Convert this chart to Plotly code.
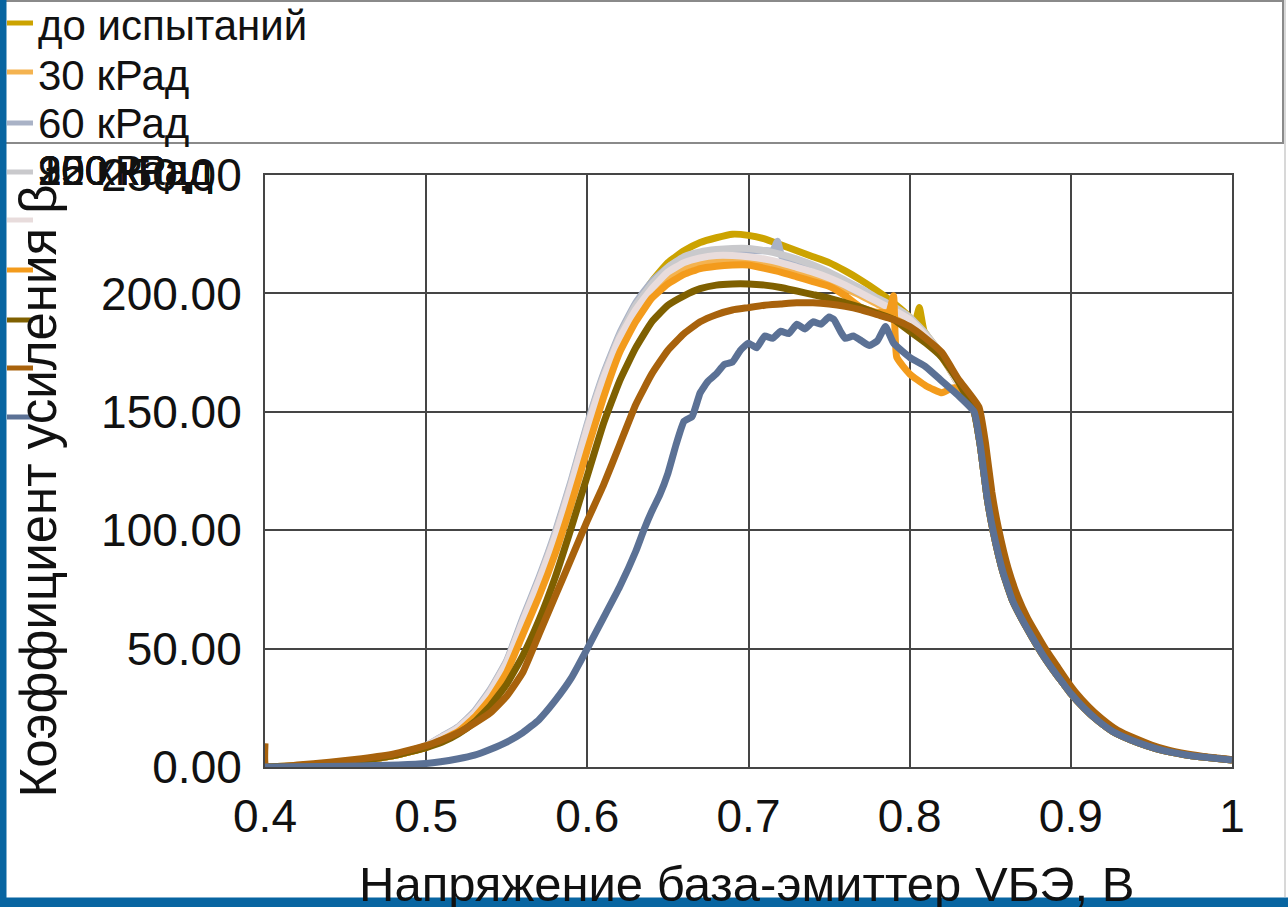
import plotly.graph_objects as go

# ---------------- data ----------------
SERIES_NAMES = ["до испытаний", "30 кРад", "60 кРад", "90 кРад", "120 кРад",
                "150 кРад", "200 кРад", "250 кРад", "300 кРад"]
SERIES_COLORS = ["#cca300", "#f4b350", "#a9b2c6", "#c9c9cc", "#e8dcdc",
                 "#f39b1c", "#7f6000", "#a8620c", "#5b7195"]

X_TICKS = [0.4, 0.5, 0.6, 0.7, 0.8, 0.9, 1.0]
X_TICK_TEXT = ["0.4", "0.5", "0.6", "0.7", "0.8", "0.9", "1"]
Y_TICKS = [0, 50, 100, 150, 200, 250]

BASE_X = [0.40, 0.42, 0.44, 0.46, 0.48, 0.50, 0.51, 0.52, 0.53, 0.54, 0.55, 0.56,
          0.57, 0.58, 0.59, 0.60, 0.61, 0.62, 0.63, 0.64, 0.65, 0.66, 0.67, 0.68,
          0.69, 0.70, 0.71, 0.72, 0.73, 0.74, 0.75, 0.76, 0.77, 0.78, 0.79, 0.80,
          0.81, 0.82, 0.83]

TAIL_X = [0.84, 0.844, 0.848, 0.852, 0.858, 0.864, 0.87, 0.875, 0.882, 0.889,
          0.895, 0.90, 0.908, 0.916, 0.926, 0.937, 0.947, 0.957, 0.97, 0.985, 1.00]
TAIL_Y = [150, 135, 114, 99, 82, 70, 62, 56, 48, 41, 35.5, 31, 25, 20, 15, 11.5,
          9, 7, 5.3, 4, 3]

# до испытаний
S1_X = [0.40, 0.42, 0.44, 0.46, 0.48, 0.50, 0.51, 0.52, 0.53, 0.54, 0.55, 0.56,
        0.57, 0.58, 0.59, 0.60, 0.61, 0.62, 0.63, 0.64, 0.65, 0.66, 0.67, 0.68,
        0.69, 0.70, 0.71, 0.72, 0.73, 0.74, 0.75, 0.76, 0.77, 0.78, 0.79, 0.80,
        0.803, 0.806, 0.809, 0.82, 0.83]
S1_Y = [0, 0.5, 1.5, 2.8, 4.8, 8.4, 12, 16, 22, 31, 43, 60, 77, 95, 117, 141, 163,
        181, 194, 205, 213, 218, 221.5, 223.5, 225, 224.5, 223, 220.5, 218, 215.5,
        213, 209.5, 205.5, 201, 196, 190, 187, 194, 184, 174, 162]

# 30 кРад
S2_Y = [0, 0.5, 1.5, 2.8, 4.8, 8.3, 11.8, 15.6, 21.5, 30, 42, 58, 75, 93, 114, 138,
        160, 178, 191, 201, 207, 211, 213, 214, 214, 213.5, 212.5, 211, 209, 207,
        205, 202, 199, 195.5, 192, 188, 182, 173, 162]

# 60 кРад
S3_X = [0.40, 0.42, 0.44, 0.46, 0.48, 0.50, 0.51, 0.52, 0.53, 0.54, 0.55, 0.56,
        0.57, 0.58, 0.59, 0.60, 0.61, 0.62, 0.63, 0.64, 0.65, 0.66, 0.67, 0.68,
        0.69, 0.70, 0.71, 0.715, 0.718, 0.721, 0.73, 0.74, 0.75, 0.76, 0.77, 0.78,
        0.79, 0.80, 0.81, 0.82, 0.83]
S3_Y = [0, 0.5, 1.6, 3, 5, 9, 13, 17, 23.5, 33, 45, 63, 80, 99, 121, 145, 166, 183,
        196, 205, 211, 215, 216.5, 217, 217.5, 218, 218, 218, 222, 215, 213, 210,
        207, 203.5, 200, 197, 194, 189, 182, 174, 162]

# 90 кРад
S4_Y = [0, 0.5, 1.6, 3, 5, 9, 12.8, 16.8, 23, 32.5, 44.5, 62, 79, 98, 120, 144,
        165, 182, 195, 204, 211, 215.5, 217.5, 218.5, 219, 219, 218, 216.5, 214.5,
        212, 209, 205.5, 202, 198, 194.5, 190, 183, 174, 162]

# 120 кРад
S5_Y = [0, 0.5, 1.6, 3, 5, 9, 12.6, 16.6, 22.8, 32, 44, 61.5, 78.5, 97, 119, 143,
        164, 181, 193, 202, 209, 213, 215, 216, 216, 215.5, 214.5, 213, 211, 209,
        206.5, 203.5, 200, 196.5, 193, 189, 182, 174, 162]

# 150 кРад
S6_X = [0.40, 0.42, 0.44, 0.46, 0.48, 0.50, 0.51, 0.52, 0.53, 0.54, 0.55, 0.56,
        0.57, 0.58, 0.59, 0.60, 0.61, 0.62, 0.63, 0.64, 0.65, 0.66, 0.67, 0.68,
        0.69, 0.70, 0.72, 0.73, 0.74, 0.75, 0.76, 0.77, 0.78, 0.787, 0.79, 0.792,
        0.80, 0.81, 0.82, 0.826, 0.83]
S6_Y = [0, 0.5, 1.5, 2.8, 4.8, 8.3, 11.5, 15, 21, 29, 40, 56, 72, 90, 111, 134,
        156, 175, 188, 198, 204, 208, 210.5, 211.5, 212, 212, 209, 207, 205, 203,
        199, 194, 192, 192, 199, 173, 166, 161, 158, 160, 160]

# 200 кРад
S7_Y = [0, 0.5, 1.5, 2.8, 4.8, 8.2, 10.5, 14, 19, 26, 35, 47, 62, 80, 101, 123,
        145, 163, 177, 188, 195, 199, 202, 203.5, 204, 204, 203.5, 202.5, 201,
        199.5, 198, 196, 194, 191.5, 189, 184, 179, 173, 163]

# 250 кРад
S8_X = [0.40, 0.4005, 0.42, 0.44, 0.46, 0.48, 0.50, 0.51, 0.52, 0.53, 0.54, 0.55,
        0.56, 0.57, 0.58, 0.59, 0.60, 0.61, 0.62, 0.63, 0.64, 0.65, 0.66, 0.67,
        0.68, 0.69, 0.70, 0.71, 0.72, 0.73, 0.74, 0.75, 0.76, 0.77, 0.78, 0.79,
        0.80, 0.81, 0.82, 0.83]
S8_Y = [10, 0, 0.8, 2, 3.5, 5.5, 9, 11.5, 14.5, 18.5, 23, 30, 40, 56, 72, 88, 104,
        119, 136, 153, 166, 176, 183, 188, 191, 193, 194, 195, 195.5, 196, 196,
        195.5, 194.5, 193, 191, 189, 186, 181, 175, 164]
S8_TAIL_X = [0.843, 0.847, 0.851, 0.855, 0.861, 0.867, 0.873, 0.878, 0.885, 0.892,
             0.898, 0.903, 0.911, 0.919, 0.929, 0.94, 0.95, 0.96, 0.972, 0.986, 1.00]
S8_TAIL_Y = [152, 137, 116, 101, 84, 72, 63, 57, 49, 42, 36, 31.5, 25.5, 20.5,
             15.5, 12, 9.3, 7.2, 5.5, 4.1, 3.1]

# 300 кРад
S9_X = [0.40, 0.45, 0.50, 0.52, 0.53, 0.54, 0.55, 0.56, 0.57, 0.58, 0.59, 0.60,
        0.61, 0.62, 0.63, 0.635, 0.64, 0.645, 0.65, 0.655, 0.66, 0.665, 0.67,
        0.675, 0.68, 0.685, 0.69, 0.695, 0.70, 0.705, 0.71, 0.715, 0.72, 0.725,
        0.73, 0.735, 0.74, 0.745, 0.75, 0.753, 0.757, 0.76, 0.765, 0.77, 0.775,
        0.78, 0.785, 0.79, 0.80, 0.81, 0.82, 0.83]
S9_Y = [0, 0.3, 1.5, 3.5, 5, 7.5, 10.5, 14.5, 20, 28, 37.5, 50, 63, 76, 91, 100,
        108, 115, 124, 136, 146, 148, 158, 163, 166, 170, 171, 176, 179, 177, 182,
        181, 184, 183, 187, 185, 188, 187, 190, 189, 184, 181, 182, 180, 178, 180,
        186, 179, 173, 169, 163, 157]

SERIES = [
    (S1_X + TAIL_X, S1_Y + TAIL_Y),
    (BASE_X + TAIL_X, S2_Y + TAIL_Y),
    (S3_X + TAIL_X, S3_Y + TAIL_Y),
    (BASE_X + TAIL_X, S4_Y + TAIL_Y),
    (BASE_X + TAIL_X, S5_Y + TAIL_Y),
    (S6_X + TAIL_X, S6_Y + TAIL_Y),
    (BASE_X + TAIL_X, S7_Y + TAIL_Y),
    (S8_X + S8_TAIL_X, S8_Y + S8_TAIL_Y),
    (S9_X + TAIL_X, S9_Y + TAIL_Y),
]

# ---------------- layout helpers (pixel -> paper) ----------------
W, H = 1288, 907
PL, PR, PT, PB = 265, 1232, 175, 767


def fx(p):
    return (p - PL) / (PR - PL)


def fy(p):
    return (PB - p) / (PB - PT)


fig = go.Figure()
for (xs, ys), name, col in zip(SERIES, SERIES_NAMES, SERIES_COLORS):
    fig.add_trace(go.Scatter(x=xs, y=ys, mode="lines", name=name,
                             line=dict(color=col, width=7, shape="spline",
                                       smoothing=0.4),
                             showlegend=False))

GRID = "#454545"
fig.update_xaxes(range=[0.4, 1.0], tickvals=X_TICKS, ticktext=X_TICK_TEXT,
                 showgrid=True, gridcolor=GRID, gridwidth=2, zeroline=False,
                 showline=True, mirror=True, linecolor=GRID, linewidth=2,
                 ticks="", ticklabelstandoff=8,
                 tickfont=dict(family="Liberation Sans, Arial", size=46,
                               color="#111111"))
fig.update_yaxes(range=[0, 250], tickvals=Y_TICKS, tickformat=".2f",
                 showgrid=True, gridcolor=GRID, gridwidth=2, zeroline=False,
                 showline=True, mirror=True, linecolor=GRID, linewidth=2,
                 ticks="", ticklabelstandoff=12,
                 tickfont=dict(family="Liberation Sans, Arial", size=46,
                               color="#111111"))

shapes = []
annotations = []

# legend box
shapes.append(dict(type="rect", xref="paper", yref="paper",
                   x0=fx(2), x1=fx(1283), y0=fy(143), y1=fy(1),
                   line=dict(color="#8a8a8a", width=2), fillcolor="rgba(0,0,0,0)",
                   layer="above"))

LEG_SAMPLE_Y = [23, 72, 123, 172, 220, 270, 320, 368, 417]
LEG_TEXT_Y = [26, 75, 124, 171, 171, 171, 171, 171, 171]
for i, (name, col) in enumerate(zip(SERIES_NAMES, SERIES_COLORS)):
    shapes.append(dict(type="line", xref="paper", yref="paper",
                       x0=fx(7), x1=fx(33), y0=fy(LEG_SAMPLE_Y[i]), y1=fy(LEG_SAMPLE_Y[i]),
                       line=dict(color=col, width=5), layer="above"))
    annotations.append(dict(text=name, xref="paper", yref="paper",
                            x=fx(36), y=fy(LEG_TEXT_Y[i]), xanchor="left",
                            yanchor="middle", showarrow=False,
                            font=dict(family="Liberation Sans, Arial", size=42,
                                      color="#111111")))

# axis titles
annotations.append(dict(text="Коэффициент усиления β", xref="paper", yref="paper",
                        x=fx(38), y=fy(800), xanchor="center", yanchor="bottom",
                        textangle=-90, showarrow=False,
                        font=dict(family="Liberation Sans, Arial", size=51,
                                  color="#111111")))
annotations.append(dict(text="Напряжение база-эмиттер VБЭ, В", xref="paper",
                        yref="paper", x=fx(746), y=fy(884), xanchor="center",
                        yanchor="middle", showarrow=False,
                        font=dict(family="Liberation Sans, Arial", size=49,
                                  color="#111111")))

# slide frame (blue bands)
BLUE = "#0865a1"
shapes.append(dict(type="rect", xref="paper", yref="paper",
                   x0=fx(-5), x1=fx(6.5), y0=fy(912), y1=fy(-5),
                   fillcolor=BLUE, line=dict(width=0), layer="above"))
shapes.append(dict(type="rect", xref="paper", yref="paper",
                   x0=fx(-5), x1=fx(1293), y0=fy(912), y1=fy(897.5),
                   fillcolor=BLUE, line=dict(width=0), layer="above"))
shapes.append(dict(type="line", xref="paper", yref="paper",
                   x0=fx(1285), x1=fx(1285), y0=fy(897), y1=fy(0),
                   line=dict(color="#d8d8d8", width=2), layer="above"))

fig.update_layout(width=W, height=H, margin=dict(l=PL, r=W - PR, t=PT, b=H - PB),
                  paper_bgcolor="white", plot_bgcolor="white",
                  shapes=shapes, annotations=annotations)

fig.write_html("out.html", config={"displayModeBar": False},
               post_script="document.body.style.margin='0';")
